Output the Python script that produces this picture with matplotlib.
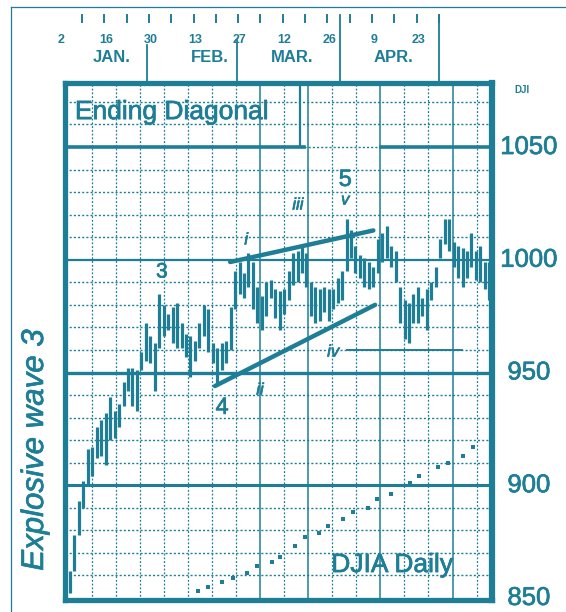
import numpy as np
import matplotlib
matplotlib.use("Agg")
import matplotlib.pyplot as plt
import matplotlib.patheffects as pe
from matplotlib.transforms import blended_transform_factory as blend

teal = "#1E7E96"
plt.rcParams["font.family"] = ["Liberation Sans", "DejaVu Sans"]
thick = [pe.withStroke(linewidth=0.5, foreground=teal)]

# daily DJIA bars, Jan 2 .. mid May 1976 (trading-day index)
highs = [862, 878, 893, 902, 916, 917, 926, 929, 932, 939, 933, 936, 946, 952, 952, 951,
         959, 972, 966, 963, 985, 980, 976, 979, 981, 972, 967, 966, 964, 972, 980, 978,
         963, 961, 963, 964, 979, 995, 999, 994, 1003, 999, 988, 984, 990, 991, 987, 986,
         987, 995, 1003, 1004, 1006, 1003, 990, 988, 987, 988, 987, 987, 992, 995, 1018,
         1013, 1006, 1002, 1001, 999, 997, 1009, 1012, 1015, 1006, 1004, 988, 982, 981,
         985, 988, 983, 987, 990, 997, 1009, 1018, 1018, 1008, 1006, 1005, 1004, 1012,
         1004, 1006, 999, 999]
lows = [852, 862, 878, 890, 900, 904, 912, 913, 909, 920, 921, 926, 935, 942, 935, 933,
        951, 955, 954, 942, 961, 966, 969, 963, 961, 961, 957, 948, 955, 961, 966, 959,
        954, 945, 951, 954, 960, 978, 985, 983, 988, 978, 972, 969, 975, 983, 974, 969,
        976, 982, 989, 990, 994, 988, 975, 972, 973, 977, 973, 978, 981, 982, 995,
        1001, 994, 992, 988, 987, 988, 994, 999, 1001, 997, 990, 972, 965, 963,
        972, 972, 975, 969, 982, 988, 1001, 1007, 1004, 997, 992, 988, 992, 997,
        991, 990, 987, 982]
days = np.arange(len(highs))

# dotted indicator series along the bottom
dot_x = [28.7, 30.9, 34.1, 36.5, 39.7, 41.9, 45.3, 47.1, 50.4, 52.7, 55.8, 57.8,
         61.2, 63.5, 66.8, 68.8, 72.0, 76.2, 78.3, 82.5, 84.8, 88.1, 90.4]
dot_y = [853, 855, 857, 859, 861, 864, 866, 868, 873, 877, 879, 882,
         885, 888, 890, 894, 896, 901, 904, 908, 910, 913, 917]

# ending diagonal boundary lines
upper_x, upper_y = [35.9, 68.0], [999, 1013]
lower_x, lower_y = [32.5, 68.4], [944, 980]

# header dates
day_labels = ["2", "16", "30", "13", "27", "12", "26", "9", "23"]
day_pos = [-2.3 + 10 * k for k in range(len(day_labels))]
week_ticks = [2.7 + 5 * k for k in range(17)]
months = ["JAN.", "FEB.", "MAR.", "APR."]
month_pos = [9.4, 31.4, 49.8, 72.4]
month_sep = [17.3, 37.4, 60.5, 82.7]
sep_top = [45, 40, 15, 15]
price_labels = [1050, 1000, 950, 900, 850]

W, H = 566, 612
fig = plt.figure(figsize=(W / 100, H / 100), dpi=100)
L, R, T, B = 65, 492, 83, 600
ax = fig.add_axes([L / W, 1 - B / H, (R - L) / W, (B - T) / H])
ax.set_xlim(-1.12, 94.6)
ax.set_ylim(849.1, 1078.4)
ax.set_xticks([])
ax.set_yticks([])
for s in ax.spines.values():
    s.set_color(teal)
    s.set_linewidth(3.8)
ax.spines["right"].set_linewidth(4.5)

# chart-paper grid
dots = (0, (1.5, 1.5))
for v in range(860, 1080, 10):
    if v in (900, 950, 1000, 1050):
        continue
    ax.axhline(v, color=teal, lw=1.0, ls=dots, zorder=1)
col_x = [0.063 + 0.0563 * k for k in range(17)]
for k, cx in enumerate(col_x):
    if k in (7, 9, 12, 15):
        ax.plot([cx, cx], [0, 1], color=teal, lw=1.1, transform=ax.transAxes, zorder=1)
    else:
        ax.plot([cx, cx], [0, 1], color=teal, lw=0.9, ls=dots, transform=ax.transAxes, zorder=1)
ax.axhline(950, color=teal, lw=2.4, zorder=2)
ax.axhline(900, color=teal, lw=2.2, zorder=2)
ax.axhline(1000, color=teal, lw=1.6, zorder=2)
hx = blend(ax.transAxes, ax.transData)
ax.plot([0, 0.56], [1050, 1050], color=teal, lw=2.6, transform=hx)
ax.plot([0.56, 0.74], [1050, 1050], color=teal, lw=1.0, ls=dots, transform=hx)
ax.plot([0.74, 1], [1050, 1050], color=teal, lw=2.6, transform=hx)
ax.plot([0.66, 0.93], [960, 960], color=teal, lw=1.4, transform=hx)
ax.plot([0.55, 0.55], [1050, 1078.4], color=teal, lw=1.6, transform=hx)

# price bars
ax.vlines(days, lows, highs, color=teal, lw=2.3, zorder=3)
ax.scatter(dot_x, dot_y, s=8, marker="s", color=teal, lw=0, zorder=3)
ax.plot(upper_x, upper_y, color=teal, lw=3.2, solid_capstyle="round", zorder=4)
ax.plot(lower_x, lower_y, color=teal, lw=3.2, solid_capstyle="round", zorder=4)

# wave labels
def label(x, y, s, size, italic=False):
    ax.text(x, y, s, color=teal, fontsize=size, style="italic" if italic else "normal",
            ha="center", va="center", path_effects=thick)

label(20.6, 994.6, "3", 15)
label(34.1, 934.3, "4", 17)
label(61.7, 1035.4, "5", 17)
label(61.7, 1026.5, "v", 12, True)
label(39.5, 1008.8, "i", 12, True)
label(42.6, 942.2, "ii", 12, True)
label(51.1, 1024.3, "iii", 12, True)
label(59.0, 959.1, "iv", 12, True)
ax.text(1.1, 1065.5, "Ending Diagonal", color=teal, fontsize=19, ha="left", va="center",
        path_effects=thick)
ax.text(72.2, 864.6, "DJIA Daily", color=teal, fontsize=19, ha="center", va="center",
        path_effects=thick)
fig.text(35 / W, 1 - 450 / H, "Explosive wave 3", color=teal, fontsize=22.5,
         style="italic", rotation=90, ha="center", va="center", path_effects=thick)

# right-hand price scale
ytr = blend(fig.transFigure, ax.transData)
for v in price_labels:
    ax.text(529 / W, v, str(v), color=teal, fontsize=18.5, ha="center", va="center",
            transform=ytr, path_effects=thick)
fig.text(522 / W, 1 - 90 / H, "DJI", color=teal, fontsize=7, weight="bold",
         ha="center", va="center")

# date header
htr = blend(ax.transData, fig.transFigure)
for t in week_ticks:
    ax.plot([t, t], [1 - 15 / H, 1 - 22 / H], color=teal, lw=1.4, transform=htr, clip_on=False)
for lab, p in zip(day_labels, day_pos):
    ax.text(p + 0.4, 1 - 40 / H, lab, color=teal, fontsize=9, weight="bold", ha="center",
            va="center", transform=htr)
for lab, p in zip(months, month_pos):
    ax.text(p, 1 - 57 / H, lab, color=teal, fontsize=12, weight="bold", ha="center",
            va="center", transform=htr)
for p, top in zip(month_sep, sep_top):
    ax.plot([p, p], [1 - top / H, 1 - T / H], color=teal, lw=1.3, transform=htr, clip_on=False)

# outer thin frame
fig.add_artist(plt.Line2D([11 / W, 1], [1 - 7 / H, 1 - 7 / H], color=teal, lw=0.9))
fig.add_artist(plt.Line2D([11 / W, 11 / W], [0, 1 - 7 / H], color=teal, lw=0.9))

fig.savefig("out.png", dpi=100, facecolor="white")
